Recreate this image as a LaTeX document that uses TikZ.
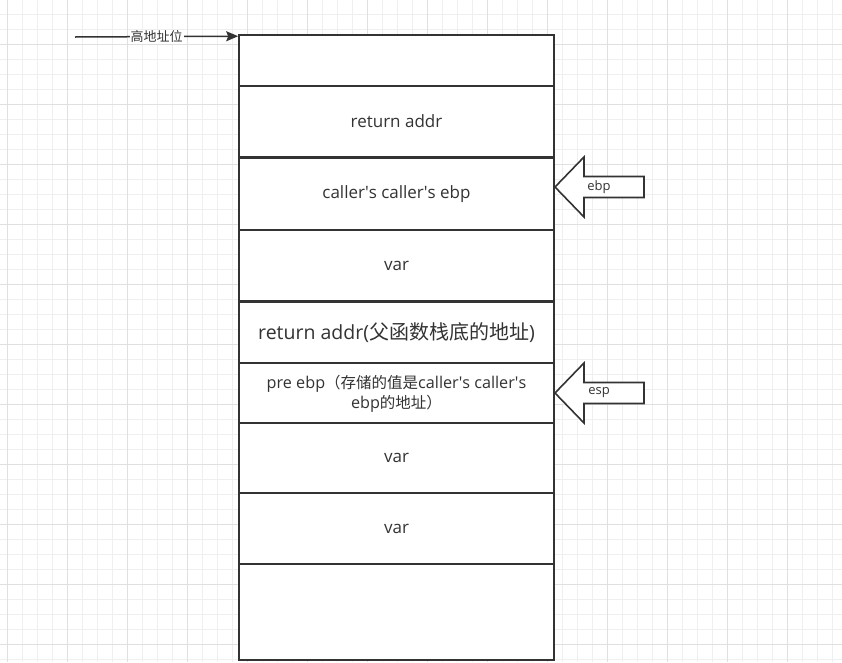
\documentclass[tikz,border=0pt]{standalone}
\usepackage{fontspec}
\setmainfont{Open Sans}
\newfontfamily\cjk{Noto Sans CJK SC}
\usetikzlibrary{arrows.meta,positioning}
\definecolor{ink}{HTML}{333333}
\definecolor{gridminor}{HTML}{EFEFEF}
\definecolor{gridmajor}{HTML}{E0E0E0}
\newcommand{\apos}{\textquotesingle}

\begin{document}
\begin{tikzpicture}[
  x=1pt, y=-1pt,
  >=Stealth,
  cell/.style={draw=ink, line width=1.6pt, fill=white, align=center,
    minimum width=315pt, inner sep=0pt, text=ink,
    font=\fontsize{17}{21}\selectfont},
  ptr/.style={draw=ink, line width=1.6pt, fill=white, line join=miter},
  tag/.style={text=ink, inner sep=1pt, font=\fontsize{13}{15}\selectfont}
]
  \useasboundingbox (0,0) rectangle (842,662);
  \fill[white] (0,0) rectangle (842,662);

  % background grid
  \foreach \k in {0,...,55}
    \draw[gridminor, line width=0.8pt] (7.3+15*\k,0) -- (7.3+15*\k,662);
  \foreach \k in {0,...,43}
    \draw[gridminor, line width=0.8pt] (0,14+15*\k) -- (842,14+15*\k);
  \foreach \k in {0,...,13}
    \draw[gridmajor, line width=0.8pt] (7.3+60*\k,0) -- (7.3+60*\k,662);
  \foreach \k in {0,...,10}
    \draw[gridmajor, line width=0.8pt] (0,44+60*\k) -- (842,44+60*\k);

  % stack cells, top to bottom
  \node[cell, minimum height=51pt] (top) at (396.5,60.5) {};
  \node[cell, minimum height=71pt] (ret) at (396.5,121.5) {return addr};
  \node[cell, minimum height=71.5pt] (cebp) at (396.5,194.25)
    {caller\apos s caller\apos s ebp};
  \node[cell, minimum height=71pt] (var1) at (396.5,265.5) {var};
  \node[cell, minimum height=60.5pt, font=\fontsize{19.5}{24}\selectfont] (ret2)
    at (396.5,332.75) {return addr({\cjk\fontsize{20}{24}\selectfont 父函数栈底的地址})};
  \node[cell, minimum height=60pt, font=\fontsize{16.2}{20}\selectfont] (pre)
    at (396.5,393.5) {pre ebp{\cjk\fontsize{15.5}{20}\selectfont （存储的值是}caller\apos s caller\apos s\\ebp{\cjk\fontsize{15.5}{20}\selectfont 的地址）}};
  \node[cell, minimum height=70pt] (var2) at (396.5,458) {var};
  \node[cell, minimum height=71pt] (var3) at (396.5,528.5) {var};
  \node[cell, minimum height=96pt] (bot) at (396.5,612) {};

  % high address marker
  \coordinate (hiStart) at (75,37);
  \draw[ink, line width=1.5pt, -{Stealth[length=12pt, width=10pt, inset=2pt]}]
    (hiStart) -- node[tag, fill=white, font=\cjk\fontsize{13}{15}\selectfont] (hiLbl) {高地址位}
    ([yshift=-2pt]top.north west);

  % ebp pointer
  \coordinate (ebpTip) at (555,187);
  \draw[ptr] (ebpTip) -- ++(29,-30) -- ++(0,19.5) -- ++(60,0) -- ++(0,21)
    -- ++(-60,0) -- ++(0,19.5) -- cycle;
  \node[tag] (ebpLbl) at (599,187) {ebp};

  % esp pointer
  \coordinate (espTip) at (555,393);
  \draw[ptr] (espTip) -- ++(29,-30) -- ++(0,19.5) -- ++(60,0) -- ++(0,21)
    -- ++(-60,0) -- ++(0,19.5) -- cycle;
  \node[tag] (espLbl) at (599,393) {esp};
\end{tikzpicture}
\end{document}
